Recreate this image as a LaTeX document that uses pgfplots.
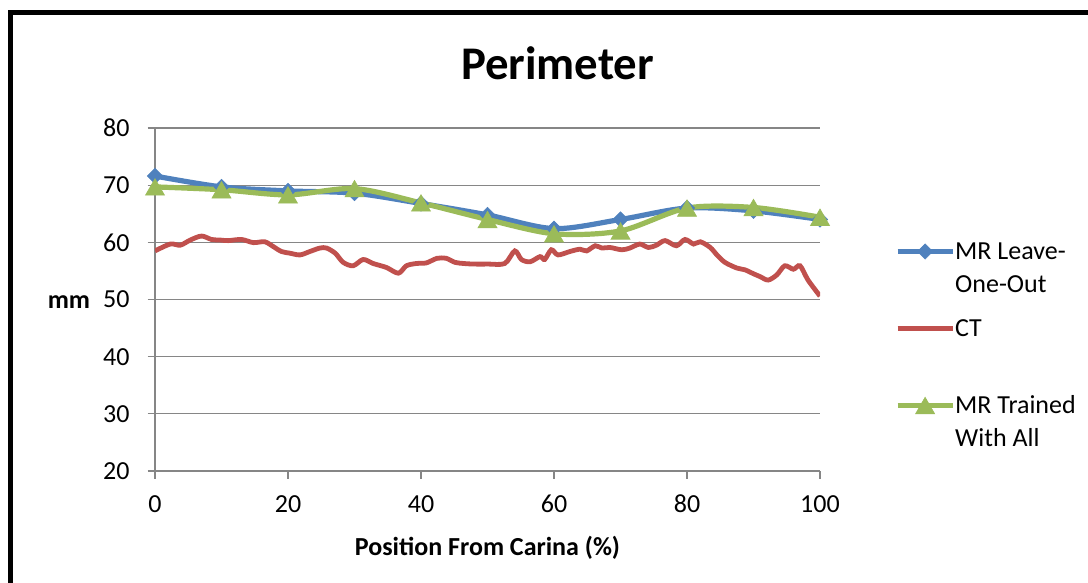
\documentclass[border=0pt]{standalone}
\usepackage{fontspec}
\setmainfont{Carlito}
\usepackage{pgfplots}
\pgfplotsset{compat=1.18}
\definecolor{mrblue}{HTML}{4F81BD}
\definecolor{ctred}{HTML}{C0504D}
\definecolor{mrgreen}{HTML}{9BBB59}
\definecolor{gridgray}{HTML}{868686}
\newcommand{\fs}{\fontsize{13bp}{16.8bp}\selectfont}
\begin{document}
\begin{tikzpicture}
\path[use as bounding box] (0,0) rectangle (544bp,291.5bp);
\draw[line width=2.3bp] (5.25bp,-10bp) |- (560bp,285.2bp);
\begin{axis}[
  at={(77.5bp,56bp)}, anchor=south west,
  scale only axis, width=332.5bp, height=171.5bp,
  xmin=0, xmax=100, ymin=20, ymax=80,
  xtick={0,20,...,100}, ytick={20,30,...,80},
  axis x line*=bottom, axis y line*=left,
  axis line style={gridgray, line width=0.6bp, -},
  tick style={gridgray, line width=0.6bp},
  tick align=outside, major tick length=3.75bp,
  ymajorgrids, grid style={gridgray, line width=0.6bp},
  /pgf/number format/assume math mode=true,
  tick label style={font=\fs},
  xticklabel style={anchor=base, yshift=-17bp},
  yticklabel style={xshift=-5.5bp},
  title={Perimeter},
  every axis title/.style={at={(axis description cs:0.5,1)}, anchor=base, xshift=35bp, yshift=24.35bp, font=\fontsize{23.4bp}{28bp}\selectfont\bfseries},
  xlabel={Position From Carina (\%)},
  every axis x label/.style={at={(axis description cs:0.5,0)}, anchor=base, yshift=-42bp, font=\fs\bfseries},
  ylabel={mm},
  every axis y label/.style={at={(axis description cs:0,0.5)}, anchor=base, xshift=-43bp, yshift=-4.25bp, font=\fs\bfseries},
  legend style={at={(axis description cs:1.1128,0.6865)}, anchor=north west, draw=none, fill=none, inner sep=0pt, outer sep=0pt, row sep=4.9bp, column sep=0bp, font=\fs, cells={anchor=base west}, nodes={inner sep=0pt, text depth=}},
  legend image code/.code={\draw[mark repeat=2,mark phase=2,#1] plot coordinates {(0bp,3.8bp)(13.75bp,3.8bp)(27.5bp,3.8bp)};},
]
\addplot[mrblue, line width=2.6bp, smooth, mark=square*, mark size=2.7bp, mark options={rotate=45, solid, line width=0.3bp}] coordinates {
(0,71.6) (10,69.7) (20,69.0) (30,68.6) (40,66.8) (50,64.8) (60,62.4) (70,64.0) (80,66.0) (90,65.5) (100,64.0)};
\addlegendentry{\begin{tabular}[t]{@{}l@{}}MR Leave-\\One-Out\end{tabular}}
\addplot[ctred, line width=2.4bp, smooth] coordinates {
(0,58.5) (2.3,59.7) (3.8,59.5) (5.3,60.4) (7,61.1) (8.5,60.5) (9.8,60.4) (11,60.3) (13,60.5) (14.8,59.95)
(16.5,60.1) (17.8,59.25) (19,58.4) (20.3,58.1) (21.8,57.8) (23.3,58.4) (24.8,59.0) (25.8,59.0) (27.1,58.1) (28.3,56.5)
(29.8,55.9) (31.3,57.0) (32.8,56.3) (34.8,55.6) (36.6,54.6) (37.8,55.9) (39.3,56.3) (40.8,56.4) (42.4,57.2) (43.8,57.2)
(45.1,56.5) (46.4,56.3) (47.9,56.2) (50.1,56.2) (52.6,56.3) (54.1,58.5) (55.1,57.0) (56.4,56.6) (57.9,57.5) (58.6,57.0)
(59.6,58.7) (60.6,57.8) (62.4,58.4) (63.9,58.8) (64.9,58.5) (66.2,59.4) (67.2,59.0) (68.4,59.1) (70.2,58.7) (71.4,59.0)
(72.9,59.7) (74.2,59.1) (75.4,59.5) (76.7,60.3) (78.4,59.4) (79.7,60.5) (81,59.7) (82,60.1) (83.5,59.1) (84.5,57.8)
(85.7,56.5) (87.5,55.5) (88.7,55.2) (90,54.5) (91,54.0) (92.2,53.4) (93.5,54.3) (94.7,55.9) (96,55.3) (97,55.9)
(98.2,53.4) (100,50.6)};
\addlegendentry{\begin{tabular}[t]{@{}l@{}}CT\\\mbox{}\end{tabular}}
\addplot[mrgreen, line width=2.6bp, smooth, mark=triangle*, mark size=5.5bp, mark options={solid, line width=0.3bp, yshift=-1.4bp}] coordinates {
(0,69.7) (10,69.2) (20,68.3) (30,69.4) (40,66.9) (50,64.0) (60,61.5) (70,62.0) (80,66.0) (90,66.1) (100,64.4)};
\addlegendentry{\begin{tabular}[t]{@{}l@{}}MR Trained\\With All\end{tabular}}
\end{axis}
\end{tikzpicture}
\end{document}
